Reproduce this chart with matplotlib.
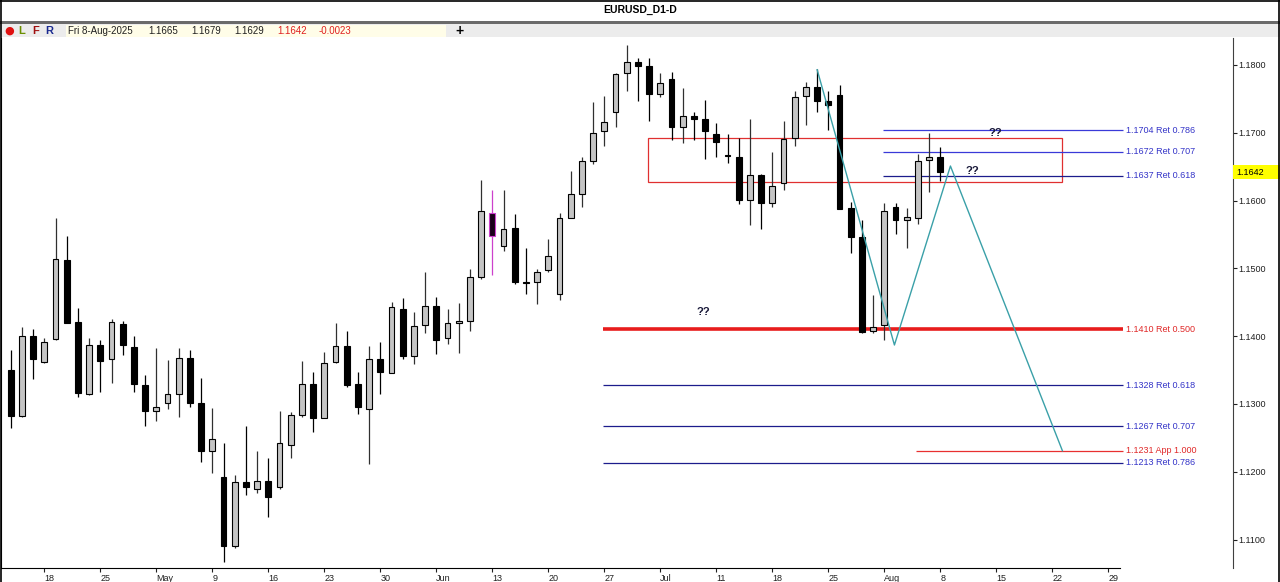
import numpy as np
import matplotlib
matplotlib.use("Agg")
import matplotlib.pyplot as plt
from matplotlib.patches import Rectangle
from matplotlib.lines import Line2D

plt.rcParams['font.family'] = ['Liberation Sans', 'DejaVu Sans']

# daily bars, 15-Apr-2025 .. 8-Aug-2025 (index 0..83)
opens = [1.1350, 1.1283, 1.1400, 1.1362, 1.1396, 1.1512, 1.1421, 1.1314, 1.1387, 1.1366,
         1.1418, 1.1384, 1.1328, 1.1290, 1.1301, 1.1314, 1.1368, 1.1301, 1.1231, 1.1192,
         1.1091, 1.1185, 1.1175, 1.1187, 1.1177, 1.1240, 1.1284, 1.1330, 1.1280, 1.1362,
         1.1386, 1.1330, 1.1293, 1.1366, 1.1346, 1.1440, 1.1371, 1.1416, 1.1445, 1.1398,
         1.1420, 1.1423, 1.1488, 1.1581, 1.1533, 1.1560, 1.1480, 1.1480, 1.1497, 1.1462,
         1.1575, 1.1610, 1.1659, 1.1702, 1.1730, 1.1788, 1.1805, 1.1799, 1.1757, 1.1779,
         1.1708, 1.1725, 1.1720, 1.1698, 1.1667, 1.1664, 1.1601, 1.1638, 1.1597, 1.1626,
         1.1692, 1.1754, 1.1768, 1.1747, 1.1755, 1.1589, 1.1546, 1.1407, 1.1416, 1.1591,
         1.1571, 1.1575, 1.1660, 1.1665]
highs = [1.1380, 1.1414, 1.1410, 1.1398, 1.1574, 1.1548, 1.1441, 1.1398, 1.1394, 1.1425,
         1.1422, 1.1401, 1.1343, 1.1382, 1.1365, 1.1383, 1.1380, 1.1338, 1.1294, 1.1243,
         1.1196, 1.1267, 1.1230, 1.1221, 1.1290, 1.1288, 1.1364, 1.1347, 1.1376, 1.1420,
         1.1408, 1.1347, 1.1385, 1.1391, 1.1451, 1.1456, 1.1435, 1.1495, 1.1458, 1.1440,
         1.1449, 1.1499, 1.1631, 1.1615, 1.1615, 1.1580, 1.1530, 1.1499, 1.1544, 1.1582,
         1.1643, 1.1665, 1.1745, 1.1754, 1.1788, 1.1830, 1.1810, 1.1810, 1.1788, 1.1789,
         1.1766, 1.1730, 1.1749, 1.1714, 1.1698, 1.1693, 1.1721, 1.1639, 1.1672, 1.1717,
         1.1761, 1.1775, 1.1794, 1.1761, 1.1770, 1.1598, 1.1572, 1.1461, 1.1597, 1.1597,
         1.1589, 1.1669, 1.1699, 1.1679]
lows = [1.1265, 1.1281, 1.1337, 1.1360, 1.1395, 1.1419, 1.1310, 1.1313, 1.1317, 1.1331,
        1.1372, 1.1318, 1.1268, 1.1275, 1.1292, 1.1281, 1.1295, 1.1214, 1.1198, 1.1067,
        1.1087, 1.1166, 1.1169, 1.1133, 1.1174, 1.1220, 1.1281, 1.1258, 1.1279, 1.1360,
        1.1325, 1.1285, 1.1212, 1.1315, 1.1345, 1.1366, 1.1359, 1.1405, 1.1373, 1.1389,
        1.1375, 1.1407, 1.1485, 1.1490, 1.1525, 1.1477, 1.1462, 1.1448, 1.1495, 1.1454,
        1.1574, 1.1591, 1.1654, 1.1681, 1.1708, 1.1762, 1.1747, 1.1717, 1.1753, 1.1689,
        1.1685, 1.1690, 1.1662, 1.1665, 1.1655, 1.1595, 1.1564, 1.1558, 1.1591, 1.1615,
        1.1680, 1.1712, 1.1731, 1.1704, 1.1587, 1.1522, 1.1404, 1.1404, 1.1394, 1.1551,
        1.1530, 1.1566, 1.1612, 1.1629]
closes = [1.1283, 1.1400, 1.1366, 1.1391, 1.1514, 1.1420, 1.1316, 1.1387, 1.1364, 1.1421,
          1.1387, 1.1329, 1.1290, 1.1296, 1.1315, 1.1368, 1.1302, 1.1231, 1.1248, 1.1091,
          1.1185, 1.1177, 1.1187, 1.1163, 1.1242, 1.1284, 1.1330, 1.1280, 1.1361, 1.1386,
          1.1328, 1.1295, 1.1366, 1.1347, 1.1443, 1.1371, 1.1415, 1.1445, 1.1394, 1.1419,
          1.1423, 1.1488, 1.1584, 1.1548, 1.1558, 1.1480, 1.1479, 1.1495, 1.1519, 1.1574,
          1.1609, 1.1659, 1.1700, 1.1716, 1.1787, 1.1805, 1.1799, 1.1757, 1.1773, 1.1708,
          1.1725, 1.1721, 1.1702, 1.1686, 1.1666, 1.1601, 1.1638, 1.1596, 1.1622, 1.1691,
          1.1753, 1.1768, 1.1747, 1.1741, 1.1588, 1.1547, 1.1406, 1.1414, 1.1584, 1.1571,
          1.1576, 1.1659, 1.1665, 1.1642]
marked_bar = 43

# friday ticks
tick_idx = [3, 8, 13, 18, 23, 28, 33, 38, 43, 48, 53, 58, 63, 68, 73, 78, 83, 88, 93, 98]
tick_lbl = ['18', '25', 'May', '9', '16', '23', '30', 'Jun', '13', '20',
            '27', 'Jul', '11', '18', '25', 'Aug', '8', '15', '22', '29']
price_ticks = [1.11, 1.12, 1.13, 1.14, 1.15, 1.16, 1.17, 1.18]

# fibonacci levels
fib_top = [1.1704, 1.1672, 1.1637]
fib_top_lbl = ['1.1704 Ret 0.786', '1.1672 Ret 0.707', '1.1637 Ret 0.618']
fib_low = [1.1328, 1.1267, 1.1213]
fib_low_lbl = ['1.1328 Ret 0.618', '1.1267 Ret 0.707', '1.1213 Ret 0.786']
ret50 = 1.1410
app100 = 1.1231

# zone box and projected path
box_x = [56.9, 93.9]
box_y = [1.1627, 1.1693]
zz_idx = [72.0, 78.9, 83.9, 93.9]
zz_price = [1.1793, 1.1387, 1.1651, 1.1231]
qq_idx = [87.9, 85.9, 61.8]
qq_price = [1.1700, 1.1644, 1.1435]

W, H = 1280, 582
fig = plt.figure(figsize=(W / 100, H / 100), dpi=100)
ax = fig.add_axes([1 / W, 14 / H, 1232 / W, 530 / H])
ax.set_xlim(-0.87, 109.13)
ax.set_ylim(1.10581, 1.18398)

o = np.array(opens); h = np.array(highs); l = np.array(lows); c = np.array(closes)
x = np.arange(len(o))
bull = c >= o
for i in x:
    if i == marked_bar:
        wc, fc, ec = '#cc40cc', '#1a001a', '#cc40cc'
    elif bull[i]:
        wc, fc, ec = '#303030', '#c4c4c4', '#000000'
    else:
        wc, fc, ec = '#000000', '#000000', '#000000'
    ax.vlines(i, l[i], h[i], color=wc, lw=0.9, zorder=3)
    bot = min(o[i], c[i])
    ht = max(abs(c[i] - o[i]), 0.00005)
    ax.bar(i, ht, bottom=bot, width=0.52, color=fc, edgecolor=ec, lw=0.8, zorder=4)

# zone rectangle
ax.add_patch(Rectangle((box_x[0], box_y[0]), box_x[1] - box_x[0], box_y[1] - box_y[0],
                       fill=False, ec='#e03030', lw=0.9, zorder=2))

end_x = 99.3
lbl_x = 99.6
top_cols = ['#3a3ad8', '#3a3ad8', '#1c1c8c']
for lev, lab, col in zip(fib_top, fib_top_lbl, top_cols):
    ax.hlines(lev, 77.9, end_x, color=col, lw=0.9, zorder=2)
    ax.text(lbl_x, lev, lab, color='#3434c8', fontsize=6.5, va='center', ha='left')
for lev, lab in zip(fib_low, fib_low_lbl):
    ax.hlines(lev, 52.9, end_x, color='#1c1c8c', lw=0.9, zorder=2)
    ax.text(lbl_x, lev, lab, color='#3434c8', fontsize=6.5, va='center', ha='left')
ax.hlines(ret50, 52.9, end_x, color='#e81c1c', lw=2.6, zorder=2)
ax.text(lbl_x, ret50, '1.1410 Ret 0.500', color='#e02828', fontsize=6.5, va='center', ha='left')
ax.hlines(app100, 80.8, end_x, color='#e83030', lw=0.9, zorder=2)
ax.text(lbl_x, app100, '1.1231 App 1.000', color='#e02828', fontsize=6.5, va='center', ha='left')

ax.plot(zz_idx, zz_price, color='#3aa0a8', lw=1.0, zorder=5)

for xi, yi in zip(qq_idx, qq_price):
    ax.text(xi, yi, '??', fontsize=8, fontweight='bold', color='#1a1a3a', ha='center', va='center')

# price tag
ax.add_patch(Rectangle((1.0, 1.1642 - 0.00104), 0.04, 0.00208, transform=ax.get_yaxis_transform(),
                       fc='#ffff00', ec='none', clip_on=False, zorder=6))
ax.text(1.003, 1.1642, '1.1642', transform=ax.get_yaxis_transform(), fontsize=6.5,
        va='center', ha='left', zorder=7)

# axes styling
ax.set_yticks(price_ticks)
ax.set_yticklabels(['%.4f' % p for p in price_ticks])
ax.yaxis.tick_right()
ax.tick_params(axis='y', length=3, width=0.8, labelsize=6.5, pad=1, colors='#202020')
ax.set_xticks(tick_idx)
ax.set_xticklabels(tick_lbl)
ax.tick_params(axis='x', length=3, width=0.8, labelsize=6.5, pad=1, colors='#202020')
for t in ax.get_xticklabels():
    t.set_ha('left')
ax.spines['top'].set_visible(False)
ax.spines['left'].set_color('#000000')
ax.spines['right'].set_color('#404040')
ax.spines['bottom'].set_bounds(-0.87, 99.0)

# header strip
fig.patches.append(Rectangle((0, 1 - 24 / H), 1, 3 / H, transform=fig.transFigure, fc='#6a6a6a', ec='none'))
fig.patches.append(Rectangle((0, 1 - 37 / H), 1, 13 / H, transform=fig.transFigure, fc='#ececec', ec='none'))
fig.patches.append(Rectangle((66 / W, 1 - 37 / H), 380 / W, 12 / H, transform=fig.transFigure,
                             fc='#fffde8', ec='none'))
fig.text(640 / W, 1 - 10 / H, 'EURUSD_D1-D', ha='center', va='center', fontsize=7.5, fontweight='bold')
hy = 1 - 31 / H
fig.text(4 / W, hy, '\u25cf', color='#e01010', fontsize=8, va='center', family='DejaVu Sans')
fig.text(18 / W, hy, 'L', color='#6b8e00', fontsize=8, fontweight='bold', va='center')
fig.text(32 / W, hy, 'F', color='#a01010', fontsize=8, fontweight='bold', va='center')
fig.text(45 / W, hy, 'R', color='#1a2a90', fontsize=8, fontweight='bold', va='center')
hdr_txt = ['Fri 8-Aug-2025', '1.1665', '1.1679', '1.1629', '1.1642', '-0.0023']
hdr_x = [68, 148, 191, 234, 277, 319]
hdr_col = ['#202020', '#202020', '#202020', '#202020', '#e02020', '#e02020']
for s, xx, cc in zip(hdr_txt, hdr_x, hdr_col):
    fig.text(xx / W, hy, s, color=cc, fontsize=7, va='center')
fig.text(459 / W, hy, '+', fontsize=10, fontweight='bold', va='center', ha='center')

# window border
for xs, ys in [([0, 1], [0.999, 0.999]), ([0.0008, 0.0008], [0, 1]), ([0.9992, 0.9992], [0, 1])]:
    fig.add_artist(Line2D(xs, ys, transform=fig.transFigure, color='#000000', lw=1.2))

fig.savefig('out.png', dpi=100)
